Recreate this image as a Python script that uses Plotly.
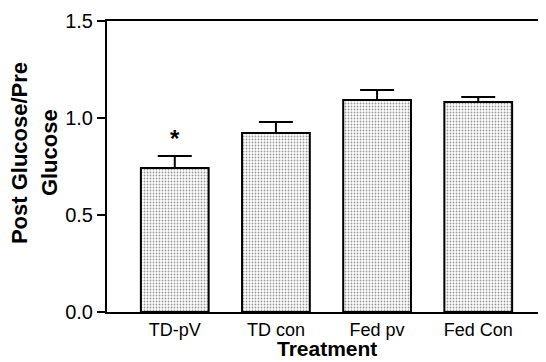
import plotly.graph_objects as go

categories = ["TD-pV", "TD con", "Fed pv", "Fed Con"]
values = [0.742, 0.923, 1.093, 1.082]
errors = [0.062, 0.056, 0.051, 0.026]
sig_labels = ["*", "", "", ""]
y_title_lines = ["Post Glucose/Pre", "Glucose"]
x_title = "Treatment"

fig = go.Figure()
fig.add_trace(go.Bar(
    x=categories, y=values,
    width=0.67,
    marker=dict(
        color="white",
        line=dict(color="black", width=2),
        pattern=dict(shape=".", size=3, solidity=0.3, fgcolor="#333", bgcolor="white", fillmode="overlay"),
    ),
    error_y=dict(type="data", symmetric=False, array=errors, arrayminus=[0]*len(errors),
                 color="black", thickness=2, width=17),
))

for c, v, e, s in zip(categories, values, errors, sig_labels):
    if s:
        fig.add_annotation(x=c, y=v + e, text="<b>" + s + "</b>", showarrow=False,
                           yanchor="bottom", yshift=2,
                           font=dict(size=24, color="black", family="Arial, Liberation Sans"))

# y-axis title lines as rotated annotations
for line, xs in zip(y_title_lines, [-88, -58]):
    fig.add_annotation(xref="paper", yref="paper", x=0, y=0.546, xshift=xs,
                       xanchor="center", yanchor="middle", textangle=-90, showarrow=False,
                       text="<b>" + line + "</b>",
                       font=dict(size=22, color="black", family="Arial, Liberation Sans"))

# x-axis title as annotation
fig.add_annotation(xref="paper", yref="paper", x=0.5, y=0, yshift=-50,
                   xanchor="center", yanchor="bottom", showarrow=False,
                   text="<b>" + x_title + "</b>",
                   font=dict(size=21, color="black", family="Arial, Liberation Sans"))

fig.update_layout(
    width=538, height=354,
    margin=dict(l=99, r=0, t=13, b=50),
    paper_bgcolor="white", plot_bgcolor="white",
    showlegend=False,
    font=dict(family="Arial, Liberation Sans", color="black", size=20),
)
fig.update_xaxes(
    range=[-0.67, 3.67],
    showline=True, linecolor="black", linewidth=2, mirror=True,
    ticks="", showgrid=False,
    tickfont=dict(size=18),
)
fig.update_yaxes(
    range=[0, 1.5], tickvals=[0, 0.5, 1.0, 1.5], ticktext=["0.0", "0.5", "1.0", "1.5"],
    showline=True, linecolor="black", linewidth=2,
    ticks="outside", ticklen=8, tickwidth=2, tickcolor="black",
    showgrid=False, zeroline=False,
    tickfont=dict(size=20),
)

fig.write_html("out.html")
